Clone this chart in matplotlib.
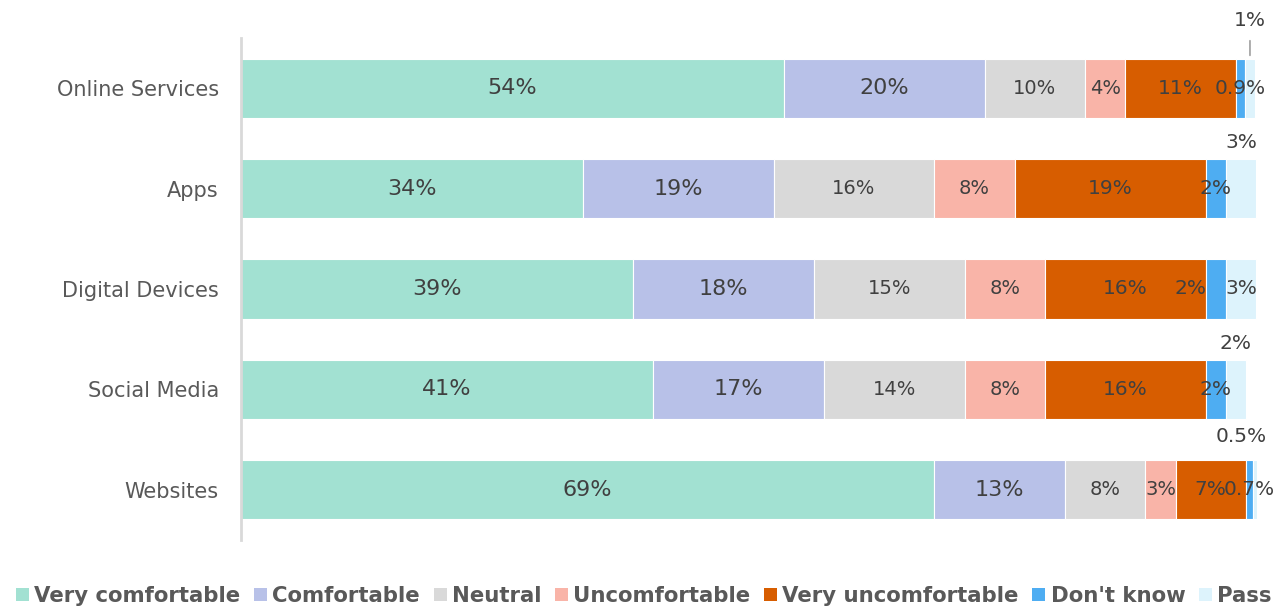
import matplotlib
matplotlib.use("Agg")
import matplotlib.pyplot as plt
from matplotlib.patches import Patch

categories = ["Online Services", "Apps", "Digital Devices", "Social Media", "Websites"]
series_names = ["Very comfortable", "Comfortable", "Neutral", "Uncomfortable",
                "Very uncomfortable", "Don't know", "Pass"]

very_comfortable = [54, 34, 39, 41, 69]
comfortable = [20, 19, 18, 17, 13]
neutral = [10, 16, 15, 14, 8]
uncomfortable = [4, 8, 8, 8, 3]
very_uncomfortable = [11, 19, 16, 16, 7]
dont_know = [0.9, 2, 2, 2, 0.7]
pass_ = [1, 3, 3, 2, 0.5]

series = [very_comfortable, comfortable, neutral, uncomfortable,
          very_uncomfortable, dont_know, pass_]
colors = ["#A2E1D2", "#B8C1E8", "#D9D9D9", "#F9B4A8", "#D75D00", "#4EADF2", "#DDF3FC"]
label_sizes = [16, 16, 14, 14, 14.5, 14.5, 14.5]


def fmt(v):
    return f"{v:g}%"


fig = plt.figure(figsize=(12.88, 6.10), dpi=100)
ax = fig.add_axes([241 / 1288, 1 - 540 / 610, 1016 / 1288, 502 / 610])

ypos = list(range(len(categories)))
left = [0.0] * len(categories)
for s_idx, (vals, col) in enumerate(zip(series, colors)):
    ax.barh(ypos, vals, left=left, height=0.59, color=col,
            edgecolor="white", linewidth=0.8, label=series_names[s_idx])
    for i, v in enumerate(vals):
        cx = left[i] + v / 2
        dx = 0
        if s_idx == 6:
            # Pass: placed above the bar, except where there is room inside
            if categories[i] == "Digital Devices":
                ax.annotate(fmt(v), (cx, i), xytext=(0, 0), textcoords="offset points",
                            ha="center", va="center", fontsize=label_sizes[s_idx],
                            color="#404040")
            elif categories[i] == "Online Services":
                ax.annotate("", xy=(cx, i - 0.3), xytext=(cx, i - 0.5),
                            arrowprops=dict(arrowstyle="-", color="#A6A6A6", lw=1.3),
                            annotation_clip=False)
                ax.annotate(fmt(v), (cx, i), xytext=(0, 49), textcoords="offset points",
                            ha="center", va="center", fontsize=label_sizes[s_idx],
                            color="#404040", annotation_clip=False)
            else:
                off_x = -10 if categories[i] == "Websites" else 0
                off_y = 38.5 if categories[i] == "Websites" else 33
                ax.annotate(fmt(v), (cx, i), xytext=(off_x, off_y), textcoords="offset points",
                            ha="center", va="center", fontsize=label_sizes[s_idx],
                            color="#404040", annotation_clip=False)
            continue
        if s_idx == 5 and categories[i] == "Digital Devices":
            dx = -18
        ax.annotate(fmt(v), (cx, i), xytext=(dx, 0), textcoords="offset points",
                    ha="center", va="center", fontsize=label_sizes[s_idx],
                    color="#404040", annotation_clip=False)
    left = [l + v for l, v in zip(left, vals)]

ax.set_xlim(0, 101.1)
ax.set_ylim(4.5, -0.5)
ax.set_yticks(ypos)
ax.set_yticklabels(categories, fontsize=15, color="#595959")
ax.tick_params(axis="y", length=0, pad=16)
ax.set_xticks([])
for sp in ["top", "right", "bottom"]:
    ax.spines[sp].set_visible(False)
ax.spines["left"].set_color("#D9D9D9")
ax.spines["left"].set_linewidth(2)

handles = [Patch(facecolor=c, edgecolor="none") for c in colors]
leg = fig.legend(handles, series_names, loc="center", bbox_to_anchor=(0.5, 1 - 596 / 610),
                 ncol=7, frameon=False, handlelength=0.6, handleheight=0.6,
                 handletextpad=0.25, columnspacing=0.65,
                 prop={"weight": "bold", "size": 15.3})
for t in leg.get_texts():
    t.set_color("#595959")

fig.savefig("out.png", dpi=100)
